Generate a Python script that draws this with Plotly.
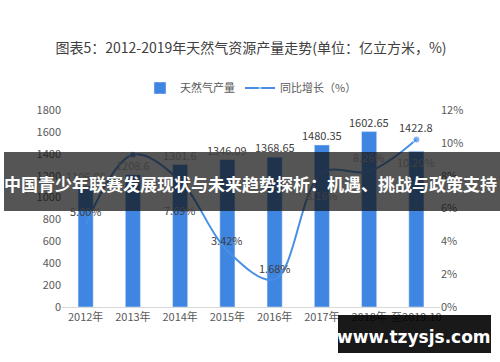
import plotly.graph_objects as go

categories = ["2012年", "2013年", "2014年", "2015年", "2016年", "2017年", "2018年", "至2019.10"]
production = [1106.08, 1208.6, 1301.6, 1346.09, 1368.65, 1480.35, 1602.65, 1422.8]
bar_label_shift = [10, 10, 10, 10, 10, 10, 10, 24]
growth = [5.00, 9.27, 7.69, 3.42, 1.68, 8.16, 8.26, 10.20]
growth_labels = ["5.00%", "", "7.69%", "3.42%", "1.68%", "8.16%", "8.26%", "10.20%"]
label_shift = [14, 0, -29, 11, 11, -22, 14, -22]
marker_sizes = [0, 7, 0, 0, 0, 0, 0, 7]

W, H = 500, 362
L, R, T, B = 62, 60, 110, 55
pw, ph = W - L - R, H - T - B

def px(x):
    return (x - L) / pw

def py(y):
    return (H - B - y) / ph

font = "Noto Sans CJK SC, Microsoft YaHei, sans-serif"
bar_color = "#3F86E2"
line_color = "#4A8FE6"

fig = go.Figure()
fig.add_trace(go.Bar(
    x=categories, y=production, name="天然气产量",
    marker_color=bar_color, width=0.32,
))
fig.add_trace(go.Scatter(
    x=categories, y=growth, name="同比增长（%）", yaxis="y2",
    mode="lines+markers", line=dict(color=line_color, width=2, shape="spline"),
    marker=dict(size=marker_sizes, color=line_color),
    cliponaxis=False,
))

annotations = []
for c, v, s in zip(categories, production, bar_label_shift):
    annotations.append(dict(text=f"{v:g}", x=c, y=v, xref="x", yref="y", yshift=s, showarrow=False,
                            font=dict(size=11, color="#404040", family=font)))
for c, g, t, s in zip(categories, growth, growth_labels, label_shift):
    if t:
        annotations.append(dict(text=t, x=c, y=g, xref="x", yref="y2", yshift=s, showarrow=False,
                                font=dict(size=11, color="#404040", family=font)))

shapes = [
    dict(type="rect", xref="paper", yref="paper", x0=px(4), x1=px(500), y0=py(211), y1=py(152),
         fillcolor="rgba(20,20,20,0.72)", line=dict(width=0), layer="above"),
    dict(type="rect", xref="paper", yref="paper", x0=px(338), x1=px(491), y0=py(353), y1=py(315),
         fillcolor="rgba(0,0,0,0.9)", line=dict(width=0), layer="above"),
]
annotations += [
    dict(text="<b>中国青少年联赛发展现状与未来趋势探析：机遇、挑战与政策支持</b>", xref="paper", yref="paper",
         x=px(250), y=py(183), showarrow=False, xanchor="center", yanchor="middle",
         font=dict(size=17, color="white", family=font)),
    dict(text="<b>www.tzysjs.com</b>", xref="paper", yref="paper",
         x=px(414), y=py(337), showarrow=False, xanchor="center", yanchor="middle",
         font=dict(size=17, color="white", family="DejaVu Sans, sans-serif")),
]

fig.update_layout(
    width=W, height=H, margin=dict(l=L, r=R, t=T, b=B),
    paper_bgcolor="white", plot_bgcolor="white",
    font=dict(family=font, size=11, color="#595959"),
    title=dict(text="图表5：2012-2019年天然气资源产量走势(单位：亿立方米，%)", x=0.5, xref="paper",
               xanchor="center", y=1 - 48 / H, yanchor="middle",
               font=dict(size=14, color="#404040", family=font)),
    legend=dict(orientation="h", x=0.5, xref="paper", xanchor="center", y=py(88), yanchor="middle",
                font=dict(size=11, color="#595959")),
    xaxis=dict(showline=True, linecolor="#D9D9D9", ticks="", showgrid=False,
               tickfont=dict(size=11, color="#595959")),
    yaxis=dict(range=[0, 1800], dtick=200, showgrid=False, zeroline=False,
               tickfont=dict(size=11, color="#595959")),
    yaxis2=dict(range=[0, 12], dtick=2, overlaying="y", side="right", showgrid=False,
                zeroline=False, ticksuffix="%", tickfont=dict(size=11, color="#595959")),
    bargap=0.5, shapes=shapes, annotations=annotations,
)

fig.write_html("out.html")
